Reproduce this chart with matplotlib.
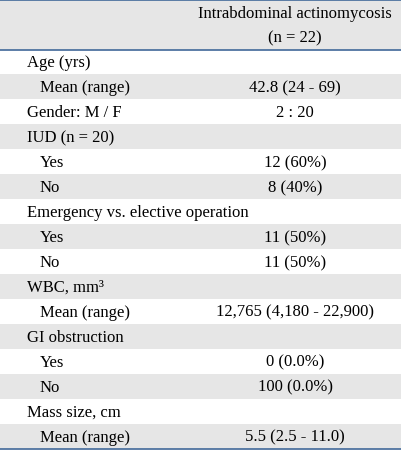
import matplotlib
matplotlib.use('Agg')
import matplotlib.pyplot as plt
from matplotlib.patches import Rectangle

# table content
header_col = ['Intrabdominal actinomycosis', '(n = 22)']
row_labels = ['Age (yrs)', 'Mean (range)', 'Gender: M / F', 'IUD (n = 20)', 'Yes', 'No',
              'Emergency vs. elective operation', 'Yes', 'No', 'WBC, mm\u00b3', 'Mean (range)',
              'GI obstruction', 'Yes', 'No', 'Mass size, cm', 'Mean (range)']
row_indent = [0, 1, 0, 0, 1, 1, 0, 1, 1, 0, 1, 0, 1, 1, 0, 1]
row_values = ['', '42.8 (24 - 69)', '2 : 20', '', '12 (60%)', '8 (40%)', '',
              '11 (50%)', '11 (50%)', '', '12,765 (4,180 - 22,900)', '',
              '0 (0.0%)', '100 (0.0%)', '', '5.5 (2.5 - 11.0)']

W, H = 401, 452
fig = plt.figure(figsize=(W / 100, H / 100), dpi=100)
ax = fig.add_axes([0, 0, 1, 1])
ax.set_xlim(0, W)
ax.set_ylim(H, 0)
ax.axis('off')

font = dict(family='Liberation Serif', size=12.0, color='black')

gray = '#e6e6e6'
line_col = '#4f73a0'
head_top, head_bot = 0.5, 50.5
row_h = (449.5 - head_bot) / len(row_labels)
val_x = 295

# header
ax.add_patch(Rectangle((0, head_top), W, head_bot - head_top, color=gray, lw=0))
ax.text(val_x, 14, header_col[0], ha='center', va='center', **font)
ax.text(val_x, 38, header_col[1], ha='center', va='center', **font)

# body rows
for i, (lab, ind, val) in enumerate(zip(row_labels, row_indent, row_values)):
    y0 = head_bot + i * row_h
    if i % 2 == 1:
        ax.add_patch(Rectangle((0, y0), W, row_h, color=gray, lw=0))
    yc = y0 + row_h / 2 + 0.5
    ax.text(27 + 13 * ind, yc, lab, ha='left', va='center', **font)
    if val:
        ax.text(val_x, yc, val, ha='center', va='center', **font)

bot = head_bot + len(row_labels) * row_h
for y in [head_top + 0.5, head_bot, bot]:
    ax.plot([0, W], [y, y], color=line_col, lw=1.3, solid_capstyle='butt')

fig.savefig('out.png', dpi=100)
